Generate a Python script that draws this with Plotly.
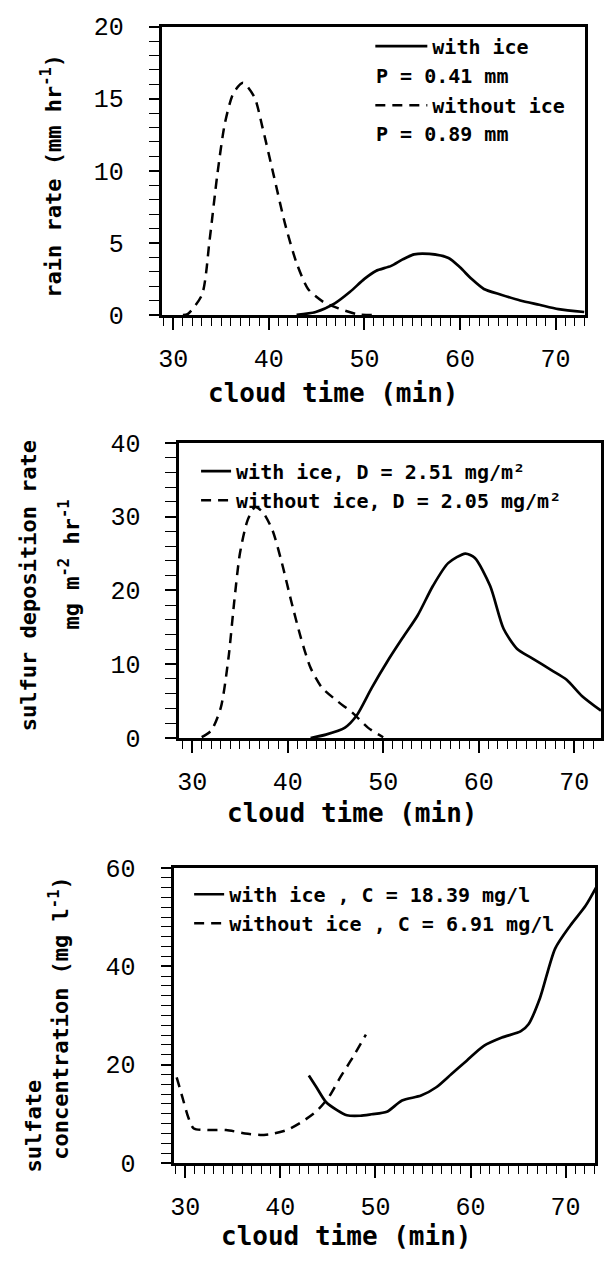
import plotly.graph_objects as go

W, H = 604, 1264

# ---------------- data ----------------
# Panel 1: rain rate (mm/hr)
rain_noice_t = [31.0, 31.5, 33.0, 33.8, 34.6, 35.4, 36.3, 37.3, 38.5, 39.3, 40.5, 41.7, 42.9, 44.1, 45.7, 47.3, 49.2, 50.8]
rain_noice_v = [0.0, 0.05, 1.4, 5.2, 9.7, 13.3, 15.4, 16.1, 15.1, 13.1, 9.7, 6.3, 3.6, 1.8, 0.9, 0.45, 0.05, 0.0]
rain_ice_t = [42.9, 44.9, 46.9, 48.5, 50.0, 51.2, 52.8, 54.0, 55.2, 56.8, 58.8, 60.0, 61.2, 62.5, 64.3, 66.3, 68.3, 70.3, 73.0]
rain_ice_v = [0.0, 0.2, 0.8, 1.6, 2.5, 3.05, 3.4, 3.85, 4.2, 4.23, 3.95, 3.3, 2.5, 1.8, 1.4, 1.0, 0.7, 0.4, 0.2]

# Panel 2: sulfur deposition rate (mg m-2 hr-1)
dep_noice_t = [31.0, 32.0, 33.0, 33.8, 34.4, 35.0, 35.8, 36.6, 37.4, 38.4, 39.4, 40.4, 41.4, 42.4, 43.6, 45.2, 46.8, 48.4, 50.0]
dep_noice_v = [0.1, 1.0, 4.1, 10.8, 18.4, 25.0, 29.5, 31.3, 30.6, 28.2, 23.7, 18.4, 13.5, 9.5, 6.8, 5.0, 3.4, 1.4, 0.1]
dep_ice_t = [42.4, 44.0, 46.0, 47.2, 48.8, 50.4, 52.0, 53.6, 55.2, 56.8, 58.6, 59.6, 61.2, 62.6, 64.0, 65.6, 67.6, 69.2, 70.8, 72.8]
dep_ice_v = [0.0, 0.45, 1.4, 3.0, 6.8, 10.3, 13.5, 16.6, 20.6, 23.7, 25.0, 24.4, 20.6, 14.8, 12.1, 10.8, 9.2, 7.9, 5.7, 3.7]

# Panel 3: sulfate concentration (mg/l)
conc_noice_t = [29.1, 29.7, 30.3, 30.9, 32.3, 34.3, 36.3, 37.9, 39.1, 40.7, 42.3, 43.9, 45.1, 46.3, 47.6, 49.0]
conc_noice_v = [17.4, 13.4, 9.4, 7.0, 6.7, 6.7, 6.0, 5.7, 5.9, 6.7, 8.4, 10.7, 13.4, 17.4, 21.4, 26.1]
conc_ice_t = [43.0, 43.8, 44.8, 46.0, 47.0, 48.4, 49.6, 51.2, 52.8, 54.8, 56.4, 58.0, 59.6, 61.4, 63.3, 65.3, 66.1, 67.3, 68.9, 70.5, 72.1, 73.2]
conc_ice_v = [17.8, 15.4, 12.4, 10.7, 9.7, 9.6, 9.9, 10.4, 12.7, 13.7, 15.4, 18.1, 20.8, 23.8, 25.5, 26.8, 28.2, 33.5, 43.6, 48.3, 52.3, 56.0]

names_p1 = ["with ice", "without ice"]
names_p2 = ["with ice, D = 2.51 mg/m²", "without ice, D = 2.05 mg/m²"]
names_p3 = ["with ice , C = 18.39 mg/l", "without ice , C = 6.91 mg/l"]
p_labels = ["P = 0.41 mm", "P = 0.89 mm"]

x_ticks = [30, 40, 50, 60, 70]

# ---------------- helpers ----------------
def px(x):
    return x / W

def py(y):
    return 1 - y / H

MONO_B = "DejaVu Sans Mono"
TICKF = dict(family="Liberation Mono", size=25, color="black")
LEGF = dict(family=MONO_B, size=20, color="black", weight="bold")
TITF = dict(family=MONO_B, size=26, color="black", weight="bold")
YTITF = dict(family=MONO_B, size=22, color="black", weight="bold")

SOLID = dict(color="black", width=2.7, shape="spline", smoothing=0.7)
DASHED = dict(color="black", width=2.5, dash="10px,7px", shape="spline", smoothing=0.7)

fig = go.Figure()

panels = [
    ("x", "y", "legend", rain_ice_t, rain_ice_v, rain_noice_t, rain_noice_v, names_p1),
    ("x2", "y2", "legend2", dep_ice_t, dep_ice_v, dep_noice_t, dep_noice_v, names_p2),
    ("x3", "y3", "legend3", conc_ice_t, conc_ice_v, conc_noice_t, conc_noice_v, names_p3),
]
for xa, ya, lg, ti, vi, tn, vn, nm in panels:
    fig.add_trace(go.Scatter(x=ti, y=vi, mode="lines", line=SOLID, name=nm[0],
                             xaxis=xa, yaxis=ya, legend=lg, legendgroup=lg + "a"))
    fig.add_trace(go.Scatter(x=tn, y=vn, mode="lines", line=DASHED, name=nm[1],
                             xaxis=xa, yaxis=ya, legend=lg, legendgroup=lg + "b"))

def xaxis(dom, rng):
    return dict(domain=[px(dom[0]), px(dom[1])], range=rng, showgrid=False, zeroline=False,
                showline=True, linecolor="black", linewidth=2.5, mirror=True,
                ticks="outside", ticklen=12, tickwidth=1.5, tickcolor="black",
                tickvals=x_ticks, tickfont=TICKF, ticklabelstandoff=7,
                minor=dict(dtick=1, tick0=0, ticks="outside", ticklen=8, tickwidth=1.3, tickcolor="black"))

def yaxis(dom, rng, dt, mdt, anchor):
    return dict(domain=[py(dom[1]), py(dom[0])], range=rng, showgrid=False, zeroline=False,
                showline=True, linecolor="black", linewidth=2.5, mirror=True,
                ticks="outside", ticklen=11, tickwidth=1.5, tickcolor="black",
                dtick=dt, tick0=0, tickfont=TICKF, ticklabelstandoff=20, anchor=anchor,
                minor=dict(dtick=mdt, tick0=0, ticks="outside", ticklen=11, tickwidth=1.3, tickcolor="black"))

fig.update_layout(
    width=W, height=H, margin=dict(l=0, r=0, t=0, b=0),
    paper_bgcolor="white", plot_bgcolor="white",
    xaxis=dict(**xaxis((160, 587), [28.86, 73.1]), anchor="y"),
    yaxis=yaxis((15, 310), [0, 20], 5, 1, "x"),
    xaxis2=dict(**xaxis((177, 603), [28.65, 72.8]), anchor="y2"),
    yaxis2=yaxis((441, 743), [0, 40], 10, 2, "x2"),
    xaxis3=dict(**xaxis((172, 597), [28.85, 73.1]), anchor="y3"),
    yaxis3=yaxis((876, 1178), [0, 60], 20, 2, "x3"),
    legend=dict(x=px(370), y=py(15), xanchor="left", yanchor="top", font=LEGF,
                bgcolor="rgba(0,0,0,0)", traceorder="grouped", tracegroupgap=30, itemwidth=52),
    legend2=dict(x=px(194), y=py(450), xanchor="left", yanchor="top", font=LEGF,
                 bgcolor="rgba(0,0,0,0)", traceorder="grouped", tracegroupgap=0, itemwidth=30),
    legend3=dict(x=px(187), y=py(883), xanchor="left", yanchor="top", font=LEGF,
                 bgcolor="rgba(0,0,0,0)", traceorder="grouped", tracegroupgap=0, itemwidth=30),
)

ann = []
# x-axis titles
for cx, cy in [(332, 390), (351, 820), (345, 1253)]:
    ann.append(dict(text="cloud time (min)", x=px(cx), y=py(cy), xref="paper", yref="paper",
                    xanchor="center", yanchor="middle", showarrow=False, font=TITF))
# y-axis titles
for txt, cx, cy in [("rain rate (mm hr<sup>-1</sup>)", 48, 168),
                    ("sulfur deposition rate", 25, 587),
                    ("mg m<sup>-2</sup> hr<sup>-1</sup>", 66, 565),
                    ("sulfate", 30, 1140),
                    ("concentration (mg l<sup>-1</sup>)", 56, 1030)]:
    ann.append(dict(text=txt, x=px(cx), y=py(cy), xref="paper", yref="paper", textangle=-90,
                    xanchor="center", yanchor="middle", showarrow=False, font=YTITF))
# precipitation totals in legend of panel 1
for txt, cy in zip(p_labels, [66, 125]):
    ann.append(dict(text=txt, x=px(374), y=py(cy), xref="paper", yref="paper",
                    xanchor="left", yanchor="middle", showarrow=False, font=LEGF))
fig.update_layout(annotations=ann)

fig.write_html("out.html")
